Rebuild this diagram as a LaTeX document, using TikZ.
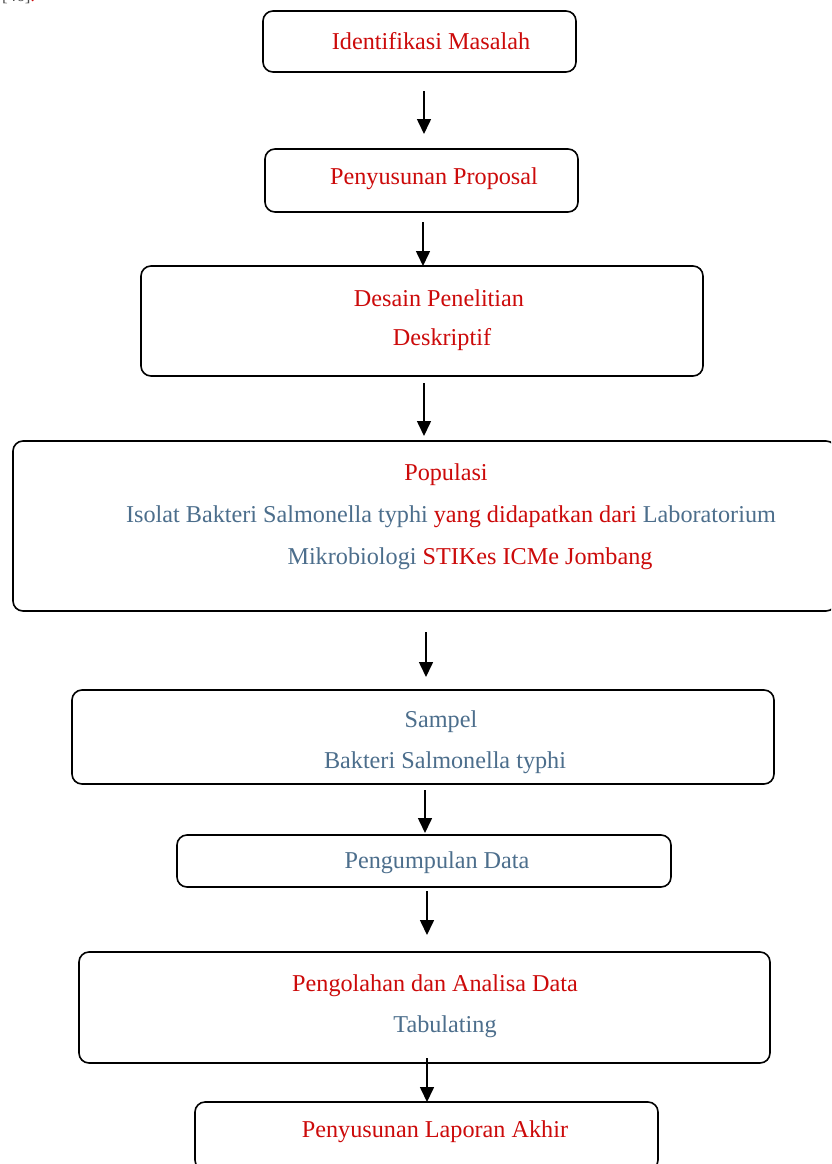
\documentclass[tikz,border=0pt]{standalone}
\usepackage{fontspec}
\setmainfont{Liberation Serif}
\usetikzlibrary{arrows.meta}
\definecolor{tred}{RGB}{204,10,10}
\definecolor{tblue}{RGB}{76,110,140}
\begin{document}
\begin{tikzpicture}[x=1pt,y=-1pt,
  box/.style={draw=black, line width=1.6pt, rounded corners=10pt, inner sep=0pt},
  txt/.style={font=\fontsize{24.2}{28}\selectfont, inner sep=0pt, anchor=center},
  arr/.style={line width=1.6pt, -{Triangle[width=14pt,length=15pt]}}]
\useasboundingbox (0,0) rectangle (831,1164);
\clip (0,0) rectangle (831,1164);
\fill[white] (0,0) rectangle (831,1164);
% cut-off reference at the top
\node[font=\fontsize{17}{20}\selectfont, anchor=base west, inner sep=0pt, text=black!70] (ref) at (2,2) {[46]\textcolor{tred}{.}};
% boxes
\node[box, minimum width=313pt, minimum height=61pt] (b1) at (419.5,41.5) {};
\node[box, minimum width=313pt, minimum height=63pt] (b2) at (421.5,180.5) {};
\node[box, minimum width=562pt, minimum height=110pt] (b3) at (422,321) {};
\node[box, minimum width=823pt, minimum height=170pt] (b4) at (424.5,526) {};
\node[box, minimum width=702pt, minimum height=94pt] (b5) at (423,737) {};
\node[box, minimum width=494pt, minimum height=52pt] (b6) at (424,861) {};
\node[box, minimum width=691pt, minimum height=111pt] (b7) at (424.5,1007.5) {};
\node[box, minimum width=463pt, minimum height=68pt] (b8) at (426.5,1136) {};
% texts
\node[txt, text=tred] (t1) at (431,41) {Identifikasi Masalah};
\node[txt, text=tred] (t2) at (434,179) {Penyusunan Proposal};
\node[txt, text=tred] (t3a) at (439,298) {Desain Penelitian};
\node[txt, text=tred] (t3b) at (442,340) {Deskriptif};
\node[txt, text=tred] (t4a) at (446,475) {Populasi};
\node[txt] (t4b) at (451,517) {\textcolor{tblue}{Isolat Bakteri Salmonella typhi} \textcolor{tred}{yang didapatkan dari} \textcolor{tblue}{Laboratorium}};
\node[txt] (t4c) at (470,559) {\textcolor{tblue}{Mikrobiologi} \textcolor{tred}{STIKes ICMe Jombang}};
\node[txt, text=tblue] (t5a) at (441,722) {Sampel};
\node[txt, text=tblue] (t5b) at (445,763) {Bakteri Salmonella typhi};
\node[txt, text=tblue] (t6) at (437,863) {Pengumpulan Data};
\node[txt, text=tred] (t7a) at (435,986) {Pengolahan dan Analisa Data};
\node[txt, text=tblue] (t7b) at (445,1027) {Tabulating};
\node[txt, text=tred] (t8) at (435,1132) {Penyusunan Laporan Akhir};
% arrow end points
\coordinate (a1s) at (424,91);  \coordinate (a1e) at (424,134);
\coordinate (a2s) at (423,222); \coordinate (a2e) at (423,266);
\coordinate (a3s) at (424,383); \coordinate (a3e) at (424,436);
\coordinate (a4s) at (426,632); \coordinate (a4e) at (426,677);
\coordinate (a5s) at (425,790); \coordinate (a5e) at (425,833);
\coordinate (a6s) at (427,891); \coordinate (a6e) at (427,935);
\coordinate (a7s) at (427,1058); \coordinate (a7e) at (427,1102);
\draw[arr] (a1s) -- (a1e);
\draw[arr] (a2s) -- (a2e);
\draw[arr] (a3s) -- (a3e);
\draw[arr] (a4s) -- (a4e);
\draw[arr] (a5s) -- (a5e);
\draw[arr] (a6s) -- (a6e);
\draw[arr] (a7s) -- (a7e);
\end{tikzpicture}
\end{document}
